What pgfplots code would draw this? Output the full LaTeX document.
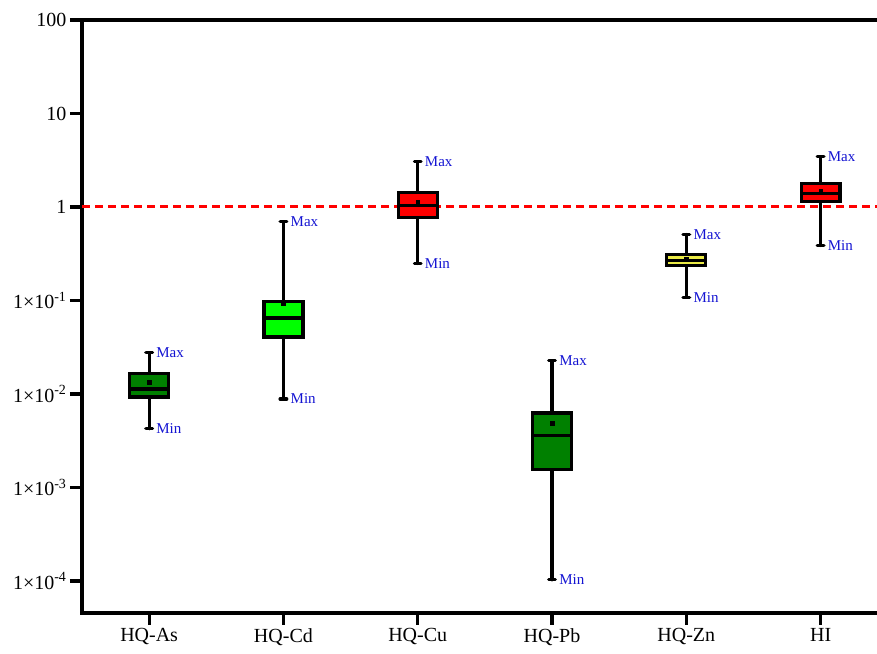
\documentclass[border=0pt]{standalone}
\usepackage{fontspec}
\setmainfont{Liberation Serif}
\usepackage{pgfplots}
\pgfplotsset{compat=1.18}
\definecolor{dkgreen}{RGB}{0,128,0}
\definecolor{ltgreen}{RGB}{0,255,0}
\definecolor{bred}{RGB}{255,0,0}
\definecolor{byellow}{RGB}{235,235,70}
\definecolor{lblue}{RGB}{20,20,210}
\tikzset{
  wh/.style={black, line width=3.2pt, line cap=round},
  bx/.style={draw=black, line width=3.2pt, line join=miter},
  lbl/.style={anchor=west, inner sep=1pt, text=lblue, font=\fontsize{15}{18}\selectfont},
}
\begin{document}
\begin{tikzpicture}
\useasboundingbox (0,0) rectangle (877pt,653pt);
\begin{axis}[
  at={(82pt,40pt)}, anchor=south west,
  width=795pt, height=593pt, scale only axis,
  axis lines*=left,
  axis line style={line width=3.2pt, line cap=rect},
  clip=false,
  xmin=-0.5, xmax=5.42,
  ymode=log, ymin=4.54e-5, ymax=100,
  xtick={0,1,2,3,4,5},
  xticklabels={HQ-As,HQ-Cd,HQ-Cu,HQ-Pb,HQ-Zn,HI},
  ytick={1e-4,1e-3,1e-2,1e-1,1,10,100},
  yticklabels={1×10\textsuperscript{-4},1×10\textsuperscript{-3},1×10\textsuperscript{-2},1×10\textsuperscript{-1},1,10,100},
  yminorticks=false,
  tick align=outside,
  major tick length=12pt,
  every tick/.style={black, line width=3.2pt},
  tick label style={font=\fontsize{20}{24}\selectfont, black},
]
\addplot[bred, line width=3pt, dash pattern=on 8pt off 5pt] coordinates {(-0.5,1) (5.42,1)};

% HQ-As
\addplot[wh] coordinates {(0,0.00425) (0,0.0275)};
\addplot[wh] coordinates {(-0.025,0.00425) (0.025,0.00425)};
\addplot[wh] coordinates {(-0.025,0.0275) (0.025,0.0275)};
\addplot[bx, fill=dkgreen] coordinates {(-0.145,0.0093) (0.145,0.0093) (0.145,0.0165) (-0.145,0.0165)} -- cycle;
\addplot[wh, line cap=butt] coordinates {(-0.145,0.0113) (0.145,0.0113)};
% HQ-Cd
\addplot[wh] coordinates {(1,0.00883) (1,0.694)};
\addplot[wh] coordinates {(0.975,0.00883) (1.025,0.00883)};
\addplot[wh] coordinates {(0.975,0.694) (1.025,0.694)};
\addplot[bx, fill=ltgreen] coordinates {(0.855,0.0407) (1.145,0.0407) (1.145,0.098) (0.855,0.098)} -- cycle;
\addplot[wh, line cap=butt] coordinates {(0.855,0.065) (1.145,0.065)};
% HQ-Cu
\addplot[wh] coordinates {(2,0.248) (2,3.05)};
\addplot[wh] coordinates {(1.975,0.248) (2.025,0.248)};
\addplot[wh] coordinates {(1.975,3.05) (2.025,3.05)};
\addplot[bx, fill=bred] coordinates {(1.855,0.778) (2.145,0.778) (2.145,1.44) (1.855,1.44)} -- cycle;
\addplot[wh, line cap=butt] coordinates {(1.855,1.045) (2.145,1.045)};
% HQ-Pb
\addplot[wh] coordinates {(3,0.000103) (3,0.0227)};
\addplot[wh] coordinates {(2.975,0.000103) (3.025,0.000103)};
\addplot[wh] coordinates {(2.975,0.0227) (3.025,0.0227)};
\addplot[bx, fill=dkgreen] coordinates {(2.855,0.00155) (3.145,0.00155) (3.145,0.00625) (2.855,0.00625)} -- cycle;
\addplot[wh, line cap=butt] coordinates {(2.855,0.00358) (3.145,0.00358)};
% HQ-Zn
\addplot[wh] coordinates {(4,0.108) (4,0.508)};
\addplot[wh] coordinates {(3.975,0.108) (4.025,0.108)};
\addplot[wh] coordinates {(3.975,0.508) (4.025,0.508)};
\addplot[bx, fill=byellow] coordinates {(3.855,0.237) (4.145,0.237) (4.145,0.31) (3.855,0.31)} -- cycle;
\addplot[wh, line cap=butt] coordinates {(3.855,0.269) (4.145,0.269)};
% HI
\addplot[wh] coordinates {(5,0.387) (5,3.45)};
\addplot[wh] coordinates {(4.975,0.387) (5.025,0.387)};
\addplot[wh] coordinates {(4.975,3.45) (5.025,3.45)};
\addplot[bx, fill=bred] coordinates {(4.855,1.15) (5.145,1.15) (5.145,1.77) (4.855,1.77)} -- cycle;
\addplot[wh, line cap=butt] coordinates {(4.855,1.40) (5.145,1.40)};

\addplot[only marks, mark=square*, mark size=1.8pt, black] coordinates {(0,0.0133) (1,0.0927) (2,1.12) (3,0.00489) (4,0.279) (5,1.50)};

\draw[line width=3.2pt] (rel axis cs:0,1) -- (rel axis cs:1,1);

\node[lbl] at (axis cs:0.045,0.0275) {Max};
\node[lbl] at (axis cs:0.045,0.00425) {Min};
\node[lbl] at (axis cs:1.045,0.694) {Max};
\node[lbl] at (axis cs:1.045,0.00883) {Min};
\node[lbl] at (axis cs:2.045,3.05) {Max};
\node[lbl] at (axis cs:2.045,0.248) {Min};
\node[lbl] at (axis cs:3.045,0.0227) {Max};
\node[lbl] at (axis cs:3.045,0.000103) {Min};
\node[lbl] at (axis cs:4.045,0.508) {Max};
\node[lbl] at (axis cs:4.045,0.108) {Min};
\node[lbl] at (axis cs:5.045,3.45) {Max};
\node[lbl] at (axis cs:5.045,0.387) {Min};
\end{axis}
\end{tikzpicture}
\end{document}
